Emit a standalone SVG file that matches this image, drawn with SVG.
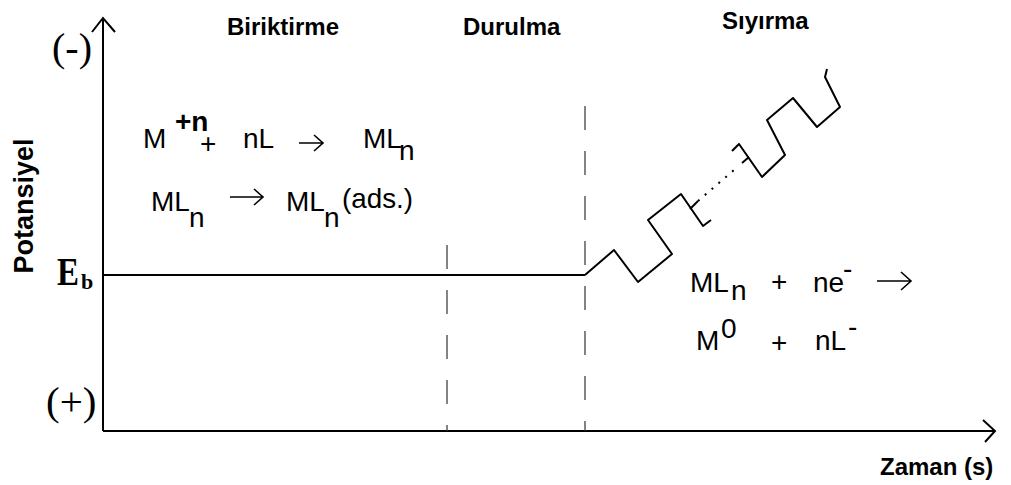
<svg xmlns="http://www.w3.org/2000/svg" width="1011" height="485" viewBox="0 0 1011 485">
<style>
.ax{stroke:#000;stroke-width:2;fill:none}
.dash{stroke:#333;stroke-width:1.2;stroke-dasharray:24,21;fill:none}
.wave{stroke:#000;stroke-width:2;fill:none;stroke-linejoin:round}
.hd{font-family:"Liberation Sans",Arial,sans-serif;font-weight:bold;font-size:24px;fill:#000}
.eq{font-family:"Liberation Sans",Arial,sans-serif;font-size:28px;fill:#000}
.sr{font-family:"Liberation Serif","Times New Roman",serif;fill:#000}
.arr{stroke:#000;stroke-width:1.6;fill:none}
</style>
<rect width="1011" height="485" fill="#fff"/>
<g id="axes">
<path class="ax" d="M103,431 V18 M92,32 L103,18 L115,32"/>
<path class="ax" d="M103,431 H995 M983,420 L995,431 L985,442"/>
</g>
<g id="labels">
<text class="hd" x="227" y="35">Biriktirme</text>
<text class="hd" x="463" y="35">Durulma</text>
<text class="hd" x="722" y="29">Sıyırma</text>
<text class="hd" x="880" y="475">Zaman (s)</text>
<text class="hd" style="font-size:27px" transform="translate(33,206) rotate(-90)" text-anchor="middle">Potansiyel</text>
<text class="sr" x="52" y="61" font-size="40">(-)</text>
<text class="sr" x="46" y="415" font-size="41">(+)</text>
<text class="sr" x="57" y="285" font-size="40" font-weight="bold" textLength="22" lengthAdjust="spacingAndGlyphs">E</text>
<text class="sr" x="81" y="289" font-size="22" font-weight="bold">b</text>
</g>
<g id="connectors">
<path class="ax" d="M103,275 H585"/>
<path class="dash" d="M447,245 V431"/>
<path class="dash" d="M585,106 V431"/>
<path class="wave" d="M585,275 L614,250 L638,282 L672,254 L648,220 L681,194 L703,226 L711,220"/>
<path class="wave" d="M690,209 L698,201"/>
<path class="wave" stroke-dasharray="2,7" d="M698,201 L734,170"/>
<path class="wave" d="M732,151 L739,144 L762,177 L785,155 L767,120 L793,98 L817,127 L840,107 L825,77 L827,69"/>
<path class="wave" d="M742,163 L749,157"/>
</g>
<g id="eq1">
<text class="eq" x="143" y="148">M</text>
<text class="eq" x="175" y="131" font-size="14" font-weight="bold">+n</text>
<text class="eq" x="200" y="153">+</text>
<text class="eq" x="243" y="148">nL</text>
<path class="arr" d="M299,143 H323 M314,135 L323,143 L314,151"/>
<text class="eq" x="363" y="148">ML</text>
<text class="eq" x="399" y="160" font-size="31">n</text>
</g>
<g id="eq2">
<text class="eq" x="151" y="211">ML</text>
<text class="eq" x="189" y="227" font-size="29">n</text>
<path class="arr" d="M230,197 H263 M254,189 L263,197 L254,205"/>
<text class="eq" x="286" y="211">ML</text>
<text class="eq" x="324" y="227" font-size="29">n</text>
<text class="eq" x="342" y="208" font-size="22" textLength="71" lengthAdjust="spacingAndGlyphs">(ads.)</text>
</g>
<g id="eq3">
<text class="eq" x="690" y="292">ML</text>
<text class="eq" x="731" y="300">n</text>
<text class="eq" x="771" y="291">+</text>
<text class="eq" x="813" y="292">ne</text>
<text class="eq" x="843" y="278" font-size="20">-</text>
<path class="arr" d="M877,281 H911 M901,272 L911,281 L901,290"/>
</g>
<g id="eq4">
<text class="eq" x="696" y="350">M</text>
<text class="eq" x="721" y="338" font-size="17">0</text>
<text class="eq" x="771" y="352">+</text>
<text class="eq" x="815" y="350">nL</text>
<text class="eq" x="848" y="336" font-size="20">-</text>
</g>
</svg>
